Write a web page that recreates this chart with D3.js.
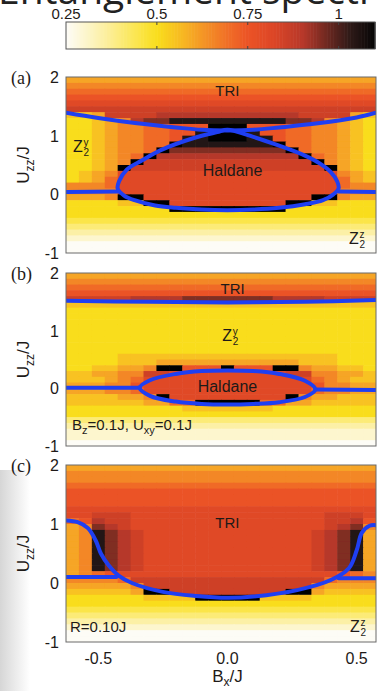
<!DOCTYPE html>
<html>
<head>
<meta charset="utf-8">
<script src="https://cdn.jsdelivr.net/npm/d3@7"></script>
<style>
  html, body { margin: 0; padding: 0; background: #fff; overflow: hidden; }
  svg { display: block; }
</style>
</head>
<body>
<svg id="chart" width="377" height="691"></svg>
<script>
// grid columns (B_x/J) and rows (U_zz/J, top row first)
const bxValues = [-0.6, -0.55, -0.5, -0.45, -0.4, -0.35, -0.3, -0.25, -0.2, -0.15, -0.1, -0.05,
  0, 0.05, 0.1, 0.15, 0.2, 0.25, 0.3, 0.35, 0.4, 0.45, 0.5, 0.55];
const uzzValues = [1.95, 1.85, 1.75, 1.65, 1.55, 1.45, 1.35, 1.25, 1.15, 1.05,
  0.95, 0.85, 0.75, 0.65, 0.55, 0.45, 0.35, 0.25, 0.15, 0.05,
  -0.05, -0.15, -0.25, -0.35, -0.45, -0.55, -0.65, -0.75, -0.85, -0.95];

// one character per cell
const levelCodes = "0123456789ABCDEFGH";
const levelValues = [0.25, 0.30, 0.35, 0.40, 0.45, 0.50, 0.55, 0.60, 0.65, 0.70,
  0.75, 0.80, 0.85, 0.90, 0.95, 1.00, 1.05, 1.10];

const heatA = [
  "777777777777777777777777",
  "888888888888888888888888",
  "999999999999999999999999",
  "AAAAAAAAAAAAAAAAAAAAAAAA",
  "BBBBBBBBBBBBBBBBBBBBBBBB",
  "CCCCCCCCCCCCCCCCCCCCCCCC",
  "667CCCCDDDDDDDDDDDCCCC76",
  "55678DEEGGGGGGGGGEED8765",
  "55678899AAAHHHAAA9988765",
  "55678899AAGHHHGAA9988765",
  "55678899AGGHHHGGA9988765",
  "55678899HGGGGGGGH9988765",
  "5567889HEEEEEEEEEH988765",
  "556789HDDDDDDDDDDDH98765",
  "55678HCCCCCCCCCCCCCH8765",
  "5567HCCCCCCCCCCCCCCCH765",
  "5678BBBBBBBBBBBBBBBBB876",
  "5679BBBBBBBBBBBBBBBBB976",
  "8889BBBBBBBBBBBBBBBBB988",
  "8888BBBBBBBBBBBBBBBBB888",
  "7778HHBBBBBBBBBBBBBHH877",
  "555566HHBBBBBBBBBHH66555",
  "55555555HHHHHHHHH5555555",
  "555555555555555555555555",
  "444444444444444444444444",
  "333333333333333333333333",
  "222222222222222222222222",
  "111111111111111111111111",
  "000000000000000000000000",
  "000000000000000000000000"
];

const heatB = [
  "777777777777777777777777",
  "888888888888888888888888",
  "999999999999999999999999",
  "AAAAAAAAAAAAAAAAAAAAAAAA",
  "CCCCCDDDDEEEEEEEDDDDCCCC",
  "666666666666666666666666",
  "555555555555555555555555",
  "555555555555555555555555",
  "555555555555555555555555",
  "555555555555555555555555",
  "555555555555555555555555",
  "555555555555555555555555",
  "555555555555555555555555",
  "555555555555555555555555",
  "555566666666666666666555",
  "555566677777777777666555",
  "5566778HHAAAHAAAHH877665",
  "667788CCBBBBBBBBBCC88776",
  "666789BBBBBBBBBBBBB98766",
  "77788ABBBBBBBBBBBBBA8877",
  "777889BBBBBBBBBBBBB98877",
  "6666778HBBBBBBBBBH877666",
  "6666667799HHHHH997766666",
  "555555555666666655555555",
  "555555555555555555555555",
  "333333333333333333333333",
  "222222222222222222222222",
  "111111111111111111111111",
  "111111111111111111111111",
  "000000000000000000000000"
];

const heatC = [
  "777777777777777777777777",
  "888888888888888888888888",
  "888888888888888888888888",
  "999999999999999999999999",
  "AAAAAAAAAAAAAAAAAAAAAAAA",
  "AAAAAAAAAAAAAAAAAAAAAAAA",
  "AAAAAAAAAAAAAAAAAAAAAAAA",
  "BBBBBBBBBBBBBBBBBBBBBBBB",
  "BBCCCBBBBBBBBBBBBBBBCCCB",
  "9ADCCBBBBBBBBBBBBBBBCCDA",
  "78EDCBBBBBBBBBBBBBBBCDE8",
  "78GEDCBBBBBBBBBBBBBCDEG7",
  "78GEDCBBBBBBBBBBBBBCDEG7",
  "78GEDCBBBBBBBBBBBBBCDEG7",
  "78GEDCBBBBBBBBBBBBBCDEG7",
  "78GEDCBBBBBBBBBBBBBCDEG7",
  "78GEDCBBBBBBBBBBBBBCDEG7",
  "78GEDCBBBBBBBBBBBBBCDEG7",
  "789ABBBBBBBBBBBBBBBBBA98",
  "88889CCCCCCCCCCCCCCC9888",
  "777778CCCCCCCCCCCCC87777",
  "666667HHCCCCCCCCCHH76666",
  "5555556666HHHHH666655555",
  "555555555555555555555555",
  "444444444444444444444444",
  "333333333333333333333333",
  "222222222222222222222222",
  "111111111111111111111111",
  "000000000000000000000000",
  "000000000000000000000000"
];

// phase boundaries, [B_x/J, U_zz/J]
const triLineA = [[-0.625, 1.39], [-0.5, 1.3], [-0.35, 1.21], [-0.2, 1.14], [-0.1, 1.1], [0, 1.09],
  [0.1, 1.1], [0.2, 1.14], [0.35, 1.21], [0.5, 1.31], [0.575, 1.39]];
const loopA = [[0, 1.1], [0.1, 0.98], [0.2, 0.83], [0.3, 0.66], [0.36, 0.52], [0.4, 0.38], [0.425, 0.22],
  [0.43, 0.1], [0.41, 0.0], [0.37, -0.1], [0.3, -0.17], [0.2, -0.23], [0.1, -0.26], [0, -0.27],
  [-0.1, -0.26], [-0.2, -0.23], [-0.28, -0.19], [-0.36, -0.1], [-0.4, -0.02], [-0.425, 0.1],
  [-0.42, 0.22], [-0.39, 0.42], [-0.33, 0.58], [-0.26, 0.75], [-0.13, 0.96], [-0.04, 1.06]];
const leftLineA = [[-0.625, 0.04], [-0.42, 0.05]];
const rightLineA = [[0.43, 0.05], [0.575, 0.04]];

const triLineB = [[-0.625, 1.52], [-0.3, 1.5], [0, 1.49], [0.3, 1.5], [0.575, 1.53]];
const loopB = [[-0.34, 0.01], [-0.3, 0.14], [-0.2, 0.25], [-0.1, 0.3], [0, 0.31], [0.1, 0.3], [0.2, 0.25],
  [0.3, 0.13], [0.34, -0.02], [0.3, -0.15], [0.2, -0.24], [0.1, -0.27], [0, -0.28], [-0.1, -0.27],
  [-0.2, -0.23], [-0.3, -0.13]];
const leftLineB = [[-0.625, 0.01], [-0.34, 0.01]];
const rightLineB = [[0.34, -0.02], [0.575, -0.03]];

const curveC = [[-0.625, 1.06], [-0.58, 1.03], [-0.54, 0.93], [-0.51, 0.72], [-0.49, 0.5], [-0.46, 0.3],
  [-0.42, 0.12], [-0.37, 0.0], [-0.25, -0.15], [-0.12, -0.22], [0.0, -0.25], [0.1, -0.23],
  [0.27, -0.12], [0.4, 0.05], [0.47, 0.25], [0.5, 0.55], [0.52, 0.85], [0.55, 0.97], [0.575, 0.98]];
const leftLineC = [[-0.625, 0.1], [-0.43, 0.1]];
const rightLineC = [[0.43, 0.08], [0.575, 0.08]];

// colour map (value -> colour)
const cmapValues = [0.25, 0.35, 0.45, 0.5, 0.57, 0.63, 0.7, 0.75, 0.82, 0.9, 0.97, 1.03, 1.1];
const cmapColors = ["#fdfcf6", "#fcf0a6", "#fbe548", "#f9dd1c", "#f7b723", "#f49226", "#f06b27",
  "#eb5326", "#dc4627", "#b6382a", "#6a2820", "#2e1a18", "#050505"];

const cbTicks = [0.25, 0.5, 0.75, 1];
const cbTickLabels = ["0.25", "0.5", "0.75", "1"];
const yTicks = [2, 1, 0, -1];
const yTickLabels = ["2", "1", "0", "-1"];
const xTicks = [-0.5, 0, 0.5];
const xTickLabels = ["-0.5", "0.0", "0.5"];

const svg = d3.select("#chart");
const defs = svg.append("defs");
const sans = "'Liberation Sans', Arial, sans-serif";
const ink = "#1e1a18";
const blue = "#1f3ff2";

const color = d3.scaleLinear().domain(cmapValues).range(cmapColors).interpolate(d3.interpolateRgb).clamp(true);

// soften the cells a little, like the scanned original
defs.append("filter").attr("id", "soft").attr("x", "-2%").attr("y", "-2%").attr("width", "104%").attr("height", "104%")
  .append("feGaussianBlur").attr("stdDeviation", 0.7);

// faint grey page edge at the lower left
const edge = defs.append("linearGradient").attr("id", "edge");
edge.append("stop").attr("offset", "0%").attr("stop-color", "#d6d6d6");
edge.append("stop").attr("offset", "100%").attr("stop-color", "#ffffff");
svg.append("rect").attr("x", 0).attr("y", 470).attr("width", 30).attr("height", 221).attr("fill", "url(#edge)");

// clipped title
svg.append("text")
  .attr("x", -2).attr("y", 4)
  .attr("font-family", "'Open Sans', sans-serif")
  .attr("font-size", 39)
  .attr("fill", "#222")
  .text("Entanglement spectrum");

// colour bar
const cbX = d3.scaleLinear().domain([0.25, 1.1]).range([66, 375]);
const cbTop = 22, cbBottom = 49;
const cbSteps = d3.range(0, 200).map(i => 0.25 + (0.85 * i) / 200);
svg.append("g").selectAll("rect").data(cbSteps).join("rect")
  .attr("x", d => cbX(d))
  .attr("y", cbTop)
  .attr("width", cbX(0.25 + 0.85 / 200) - cbX(0.25) + 0.6)
  .attr("height", cbBottom - cbTop)
  .attr("fill", d => color(d));
svg.append("rect")
  .attr("x", 66).attr("y", cbTop).attr("width", 309).attr("height", cbBottom - cbTop)
  .attr("fill", "none").attr("stroke", "#555").attr("stroke-width", 1);
svg.append("g").selectAll("line.t1").data(cbTicks.slice(1)).join("line")
  .attr("x1", d => cbX(d)).attr("x2", d => cbX(d))
  .attr("y1", cbTop).attr("y2", cbTop + 3)
  .attr("stroke", "#444");
svg.append("g").selectAll("line.t2").data(cbTicks.slice(1)).join("line")
  .attr("x1", d => cbX(d)).attr("x2", d => cbX(d))
  .attr("y1", cbBottom - 3).attr("y2", cbBottom)
  .attr("stroke", "#444");
svg.append("g").selectAll("text").data(cbTicks).join("text")
  .attr("x", d => cbX(d))
  .attr("y", 19)
  .attr("text-anchor", "middle")
  .attr("font-family", sans)
  .attr("font-size", 15)
  .attr("fill", ink)
  .text((d, i) => cbTickLabels[i]);

// panels
const x = d3.scaleLinear().domain([-0.625, 0.575]).range([66, 376]);
const panels = [
  { id: "a", heat: heatA, top: 77, bottom: 253, lines: [triLineA, leftLineA, rightLineA], loops: [loopA] },
  { id: "b", heat: heatB, top: 273, bottom: 446, lines: [triLineB, leftLineB, rightLineB], loops: [loopB] },
  { id: "c", heat: heatC, top: 465, bottom: 642, lines: [curveC, leftLineC, rightLineC], loops: [] }
];

panels.forEach(p => {
  const y = d3.scaleLinear().domain([-1, 2]).range([p.bottom, p.top]);
  p.y = y;

  defs.append("clipPath").attr("id", "clip-" + p.id)
    .append("rect").attr("x", 66).attr("y", p.top).attr("width", 310).attr("height", p.bottom - p.top);

  const cells = [];
  p.heat.forEach((row, ri) => {
    row.split("").forEach((ch, ci) => {
      cells.push({ b: bxValues[ci], u: uzzValues[ri], v: levelValues[levelCodes.indexOf(ch)] });
    });
  });

  const g = svg.append("g").attr("clip-path", `url(#clip-${p.id})`);
  g.append("g").attr("filter", "url(#soft)")
    .selectAll("rect").data(cells).join("rect")
    .attr("x", d => x(d.b - 0.025))
    .attr("y", d => y(d.u + 0.05))
    .attr("width", x(0.05) - x(0) + 0.6)
    .attr("height", y(0) - y(0.1) + 0.6)
    .attr("fill", d => color(d.v));

  const line = d3.line().x(d => x(d[0])).y(d => y(d[1])).curve(d3.curveCatmullRom);
  const loop = d3.line().x(d => x(d[0])).y(d => y(d[1])).curve(d3.curveCatmullRomClosed);

  g.selectAll("path.bl").data(p.lines).join("path")
    .attr("d", line)
    .attr("fill", "none").attr("stroke", blue).attr("stroke-width", 4).attr("stroke-linecap", "round");
  g.selectAll("path.lp").data(p.loops).join("path")
    .attr("d", loop)
    .attr("fill", "none").attr("stroke", blue).attr("stroke-width", 4);

  svg.append("rect")
    .attr("x", 66).attr("y", p.top).attr("width", 310).attr("height", p.bottom - p.top)
    .attr("fill", "none").attr("stroke", "#6a6a6a").attr("stroke-width", 1);

  svg.append("g").selectAll("text").data(yTicks).join("text")
    .attr("x", 59)
    .attr("y", d => y(d) + 6)
    .attr("text-anchor", "end")
    .attr("font-family", sans)
    .attr("font-size", 16)
    .attr("fill", ink)
    .text((d, i) => yTickLabels[i]);

  // rotated axis label U_zz/J
  const cy = (p.top + p.bottom) / 2;
  const lab = svg.append("text")
    .attr("transform", `translate(29,${cy}) rotate(-90)`)
    .attr("text-anchor", "middle")
    .attr("font-family", sans)
    .attr("font-size", 17)
    .attr("fill", ink);
  lab.append("tspan").text("U");
  lab.append("tspan").attr("dy", 5).attr("font-size", 12).text("zz");
  lab.append("tspan").attr("dy", -5).text("/J");

  svg.append("text")
    .attr("x", 11).attr("y", p.top + 7)
    .attr("font-family", "'Liberation Serif', 'Times New Roman', serif")
    .attr("font-size", 18)
    .attr("fill", ink)
    .text(`(${p.id})`);
});

// phase labels
function plain(px, py, txt, size) {
  svg.append("text").attr("x", px).attr("y", py).attr("text-anchor", "middle")
    .attr("font-family", sans).attr("font-size", size).attr("fill", ink).text(txt);
}
function zee(px, py, sup) {
  svg.append("text").attr("x", px).attr("y", py)
    .attr("font-family", sans).attr("font-size", 16).attr("fill", ink).text("Z");
  svg.append("text").attr("x", px + 10.5).attr("y", py - 6)
    .attr("font-family", sans).attr("font-size", 10).attr("fill", ink).text(sup);
  svg.append("text").attr("x", px + 10.5).attr("y", py + 4)
    .attr("font-family", sans).attr("font-size", 10).attr("fill", ink).text("2");
}

const pa = panels[0], pb = panels[1], pc = panels[2];
plain(x(0), pa.y(1.68), "TRI", 15);
plain(x(0.02), pa.y(0.32), "Haldane", 16);
zee(73, pa.y(0.72), "y");
zee(349, pa.y(-0.85), "z");

plain(x(0.02), pb.y(1.64), "TRI", 15);
zee(x(-0.02), pb.y(0.82), "y");
plain(x(0.0), pb.y(-0.07), "Haldane", 16);
const bz = svg.append("text").attr("x", 72).attr("y", pb.y(-0.72))
  .attr("font-family", sans).attr("font-size", 15).attr("fill", ink);
bz.append("tspan").text("B");
bz.append("tspan").attr("dy", 4).attr("font-size", 11).text("z");
bz.append("tspan").attr("dy", -4).text("=0.1J, U");
bz.append("tspan").attr("dy", 4).attr("font-size", 11).text("xy");
bz.append("tspan").attr("dy", -4).text("=0.1J");

plain(x(0), pc.y(0.94), "TRI", 15);
svg.append("text").attr("x", 70).attr("y", pc.y(-0.83))
  .attr("font-family", sans).attr("font-size", 15).attr("fill", ink).text("R=0.10J");
zee(350, pc.y(-0.83), "z");

// x axis of the bottom panel
svg.append("g").selectAll("text").data(xTicks).join("text")
  .attr("x", d => x(d))
  .attr("y", 664)
  .attr("text-anchor", "middle")
  .attr("font-family", sans)
  .attr("font-size", 16)
  .attr("fill", ink)
  .text((d, i) => xTickLabels[i]);
const bx = svg.append("text").attr("x", x(0)).attr("y", 682).attr("text-anchor", "middle")
  .attr("font-family", sans).attr("font-size", 17).attr("fill", ink);
bx.append("tspan").text("B");
bx.append("tspan").attr("dy", 4).attr("font-size", 12).text("x");
bx.append("tspan").attr("dy", -4).text("/J");
</script>
</body>
</html>
